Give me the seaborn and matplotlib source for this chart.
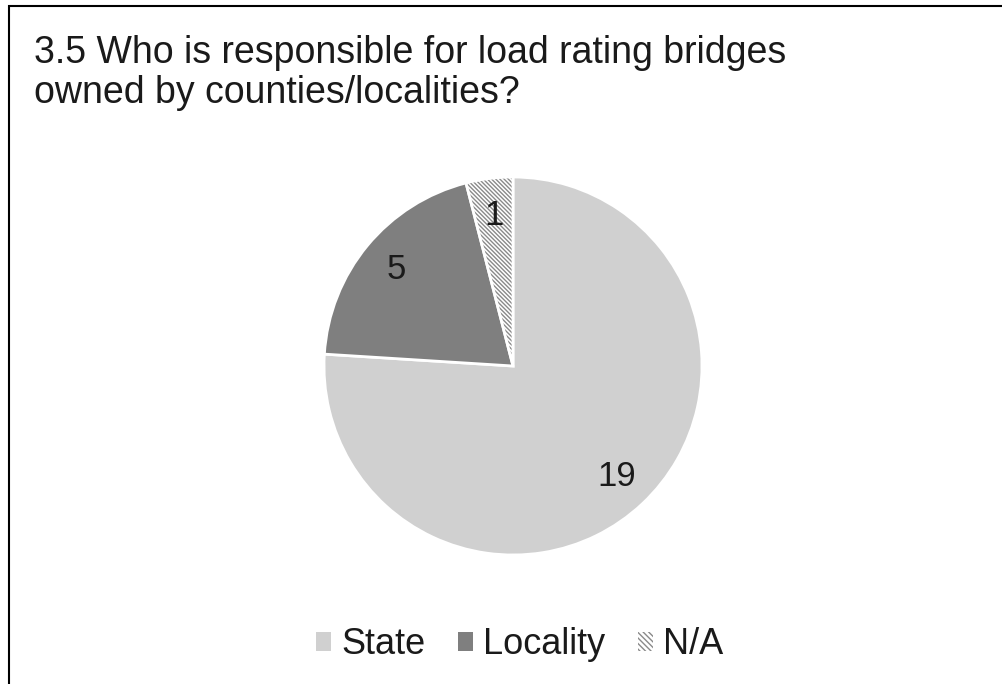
import matplotlib
matplotlib.use("Agg")
import matplotlib.pyplot as plt
from matplotlib.patches import Patch, Wedge, Rectangle
import seaborn as sns

# Survey responses
categories = ["State", "Locality", "N/A"]
counts = [19, 5, 1]
title = "3.5 Who is responsible for load rating bridges\nowned by counties/localities?"

sns.set_theme(style="white")
plt.rcParams["font.family"] = ["Liberation Sans", "DejaVu Sans"]
plt.rcParams["hatch.linewidth"] = 1.0

colors = ["#d0d0d0", "#7f7f7f", "white"]
hatch_color = "#8a8a8a"
text_color = "#1a1a1a"

W, H = 1002, 684
fig = plt.figure(figsize=(W / 100, H / 100), dpi=100)
fig.patch.set_facecolor("white")

# chart frame (top and left edges visible)
fig.add_artist(Rectangle((9 / W, -0.1), 1.2, 1 - 6 / H + 0.1, transform=fig.transFigure,
                         fill=False, edgecolor="black", linewidth=1.5))

line1, line2 = title.split("\n")
fig.text(34 / W, 1 - 63 / H, line1, ha="left", va="baseline", fontsize=27, color=text_color)
fig.text(34 / W, 1 - 103 / H, line2, ha="left", va="baseline", fontsize=27, color=text_color)

cx, cy, r = 513, 366, 189
ax = fig.add_axes([(cx - r) / W, (H - cy - r) / H, 2 * r / W, 2 * r / H])
total = sum(counts)
wedges, texts, autotexts = ax.pie(
    counts, colors=colors, startangle=90, counterclock=False,
    autopct=lambda p: f"{round(p * total / 100)}", pctdistance=0.8,
    wedgeprops=dict(edgecolor="white", linewidth=2),
    textprops=dict(fontsize=25, color=text_color),
)
na = wedges[2]
na.set_hatch("\\\\\\\\\\\\\\\\")
na.set_edgecolor(hatch_color)
na.set_linewidth(0)
ax.add_patch(Wedge(na.center, na.r, na.theta1, na.theta2, fill=False,
                   edgecolor="white", linewidth=2))
ax.set_xlim(-1, 1)
ax.set_ylim(-1, 1)
ax.set_aspect("equal")
ax.axis("off")

handles = [
    Patch(facecolor=colors[0], edgecolor="none"),
    Patch(facecolor=colors[1], edgecolor="none"),
    Patch(facecolor="white", edgecolor=hatch_color, hatch="\\\\\\\\\\\\", linewidth=0),
]
leg = fig.legend(handles, categories, ncol=3, loc="center", bbox_to_anchor=(520 / W, 1 - 645 / H),
                 frameon=False, fontsize=26, handlelength=0.4, handleheight=0.4,
                 handletextpad=0.3, columnspacing=0.9, borderpad=0)
for t in leg.get_texts():
    t.set_color(text_color)

fig.savefig("out.png", dpi=100, facecolor="white")
